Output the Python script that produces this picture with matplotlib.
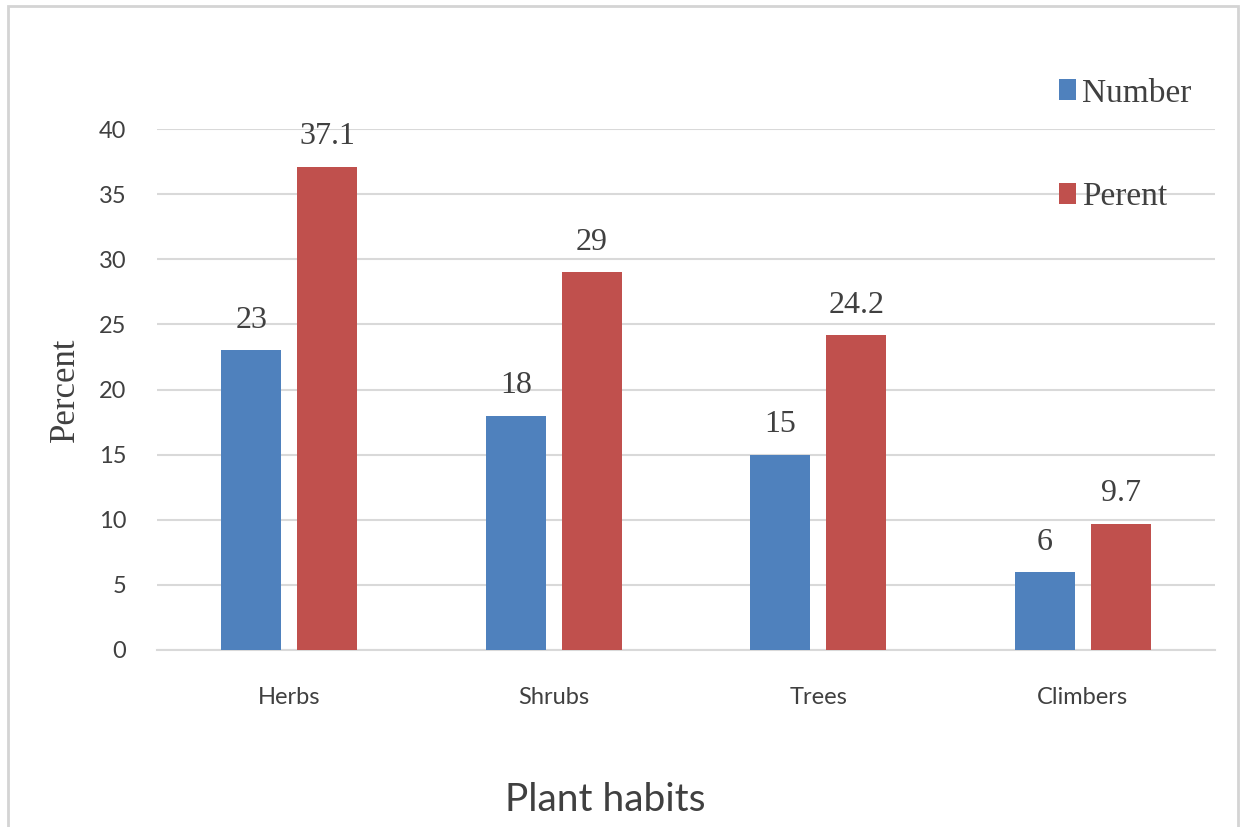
import matplotlib
matplotlib.use("Agg")
import matplotlib.pyplot as plt
from matplotlib.patches import Rectangle
import numpy as np

# plant habit counts and share
habits = ["Herbs", "Shrubs", "Trees", "Climbers"]
number = [23, 18, 15, 6]
percent = [37.1, 29, 24.2, 9.7]
yticks = [0, 5, 10, 15, 20, 25, 30, 35, 40]

blue = "#4f81bd"
red = "#c0504d"
grid_col = "#d9d9d9"
serif = ["Liberation Serif", "DejaVu Serif"]
sans = ["Lato", "DejaVu Sans"]

fig = plt.figure(figsize=(12.43, 8.27), dpi=100)
fig.patch.set_facecolor("white")

# light frame round the whole chart
fig.add_artist(Rectangle((8 / 1243, -0.05), 1230 / 1243, 1.05 - 6 / 827,
                         transform=fig.transFigure, fill=False,
                         edgecolor="#d4d4d4", linewidth=2))

ax = fig.add_axes([157 / 1243, 1 - 650 / 827, 1058 / 1243, 521 / 827])

x = np.arange(len(habits))
w = 0.227
off = 0.1437
b1 = ax.bar(x - off, number, w, color=blue, label="Number", zorder=3)
b2 = ax.bar(x + off, percent, w, color=red, label="Perent", zorder=3)

for bars, vals in ((b1, number), (b2, percent)):
    for rect, v in zip(bars, vals):
        ax.annotate(f"{v:g}", (rect.get_x() + rect.get_width() / 2, v),
                    xytext=(0, 11), textcoords="offset points",
                    ha="center", va="bottom", fontsize=23,
                    family=serif, color="#404040")

ax.set_xlim(-0.5, len(habits) - 0.5)
ax.set_ylim(0, 40)
ax.set_yticks(yticks)
ax.set_yticklabels([str(t) for t in yticks], family=sans, fontsize=17,
                   color="#404040")
ax.set_xticks(x)
ax.set_xticklabels(habits, family=sans, fontsize=17, color="#404040")
ax.tick_params(axis="y", length=0, pad=22)
ax.tick_params(axis="x", length=0, pad=27)

ax.grid(axis="y", color=grid_col, linewidth=1.5, zorder=0)
for s in ("top", "right", "left"):
    ax.spines[s].set_visible(False)
ax.spines["bottom"].set_color(grid_col)
ax.spines["bottom"].set_linewidth(1.5)

fig.text(65 / 1243, 1 - 390 / 827, "Percent", rotation=90, ha="center",
         va="center", fontsize=25, family=serif, color="#404040")
fig.text(605 / 1243, 1 - 800 / 827, "Plant habits", ha="center",
         va="center", fontsize=28, family=sans, color="#404040")

leg = ax.legend(loc="upper left", bbox_to_anchor=(1059 / 1243, 1 - 78 / 827),
                bbox_transform=fig.transFigure, frameon=False,
                prop={"family": serif, "size": 24}, handlelength=0.5,
                handleheight=0.6, handletextpad=0.2, labelspacing=2.2,
                borderpad=0, borderaxespad=0)
for t in leg.get_texts():
    t.set_color("#404040")

fig.savefig("out.png", dpi=100, facecolor="white")
